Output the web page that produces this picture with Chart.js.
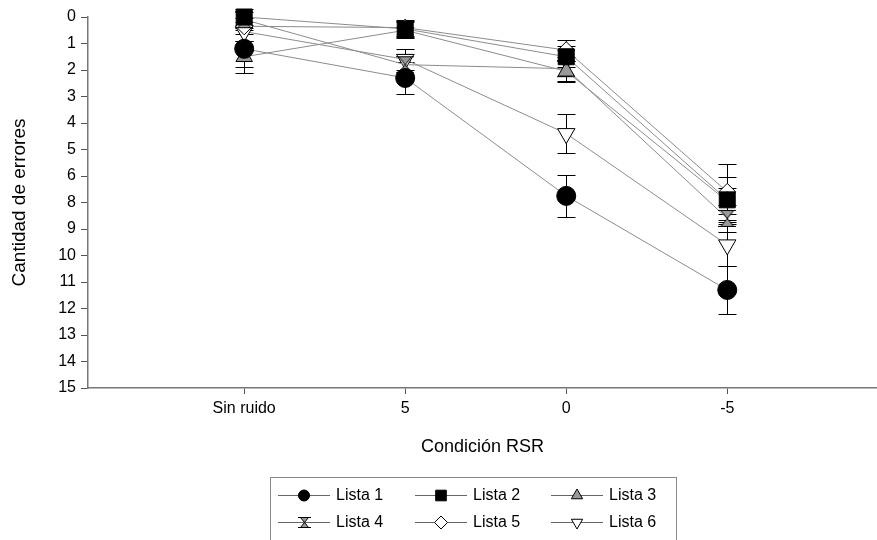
<!DOCTYPE html>
<html><head><meta charset="utf-8">
<script src="https://cdn.jsdelivr.net/npm/chart.js@4"></script>
<style>html,body{margin:0;padding:0;background:#fff}#wrap{width:877px;height:540px;position:relative}</style>
</head><body><div id="wrap"><canvas id="c" width="877" height="540"></canvas></div>
<script>
const categories = ['Sin ruido', '5', '0', '-5'];
const yTickLabels = ['0','1','2','3','4','5','6','8','9','10','11','12','13','14','15'];
const seriesNames = ['Lista 1','Lista 2','Lista 3','Lista 4','Lista 5','Lista 6'];
const lista1 = [1.2, 2.3, 6.75, 10.3];
const lista2 = [0.0, 0.45, 1.5, 6.9];
const lista3 = [1.5, 0.5, 2.05, 6.95];
const lista4 = [0.1, 1.8, 1.95, 7.6];
const lista5 = [0.35, 0.4, 1.25, 6.6];
const lista6 = [0.55, 1.6, 4.4, 8.6];
const err1 = [0.7, 0.6, 0.8, 0.9];
const err2 = [0.3, 0.3, 0.4, 0.85];
const err3 = [0.6, 0.3, 0.4, 0.5];
const err4 = [0.3, 0.4, 0.45, 0.5];
const err5 = [0.3, 0.3, 0.4, 1.05];
const err6 = [0.35, 0.4, 0.73, 0.8];

Chart.defaults.font.family = "'Liberation Sans', Arial, sans-serif";
Chart.defaults.color = '#000';

function hourglass(w, h) {
  const c = document.createElement('canvas');
  c.width = w; c.height = h;
  const g = c.getContext('2d');
  g.fillStyle = '#999'; g.strokeStyle = '#000'; g.lineWidth = 1;
  const m = 2.5;
  g.beginPath(); g.moveTo(m, 1.5); g.lineTo(w - m, 1.5); g.lineTo(w / 2, h / 2); g.closePath(); g.fill(); g.stroke();
  g.beginPath(); g.moveTo(m, h - 1.5); g.lineTo(w - m, h - 1.5); g.lineTo(w / 2, h / 2); g.closePath(); g.fill(); g.stroke();
  g.beginPath(); g.moveTo(0, 1.5); g.lineTo(w, 1.5); g.moveTo(0, h - 1.5); g.lineTo(w, h - 1.5); g.stroke();
  return c;
}
const hgBig = hourglass(18, 19);
const hgSmall = hourglass(13, 13);

const values = [lista1, lista2, lista3, lista4, lista5, lista6];
const errs = [err1, err2, err3, err4, err5, err6];
const styles = [
  {ps: 'circle', r: 9.5, fill: '#000', rot: 0},
  {ps: 'rect', r: 11.3, fill: '#000', rot: 0},
  {ps: 'triangle', r: 9.5, fill: '#999', rot: 0},
  {ps: hgBig, r: 9, fill: '#999', rot: 0, small: hgSmall},
  {ps: 'rectRot', r: 8.5, fill: '#fff', rot: 0},
  {ps: 'triangle', r: 10, fill: '#fff', rot: 180}
];

const datasets = values.map((vals, k) => ({
  label: seriesNames[k],
  data: vals.map((v, i) => ({x: i + 1, y: v})),
  errors: errs[k],
  borderColor: '#8c8c8c',
  borderWidth: 1,
  pointStyle: styles[k].ps,
  pointRadius: styles[k].r,
  pointHoverRadius: styles[k].r,
  pointRotation: styles[k].rot,
  pointBackgroundColor: styles[k].fill,
  pointBorderColor: '#000',
  pointBorderWidth: 1,
  clip: false,
  fill: false,
  tension: 0
}));

const errorBars = {
  id: 'errorBars',
  beforeDatasetsDraw(chart) {
    const {ctx, scales: {x, y}} = chart;
    ctx.save();
    ctx.strokeStyle = '#000';
    ctx.lineWidth = 1;
    chart.data.datasets.forEach(ds => {
      ds.data.forEach((p, i) => {
        const e = ds.errors[i];
        const px = Math.round(x.getPixelForValue(p.x)) + 0.5;
        const y1 = Math.round(y.getPixelForValue(p.y - e)) + 0.5;
        const y2 = Math.round(y.getPixelForValue(p.y + e)) + 0.5;
        ctx.beginPath();
        ctx.moveTo(px, y1); ctx.lineTo(px, y2);
        ctx.moveTo(px - 9, y1); ctx.lineTo(px + 9, y1);
        ctx.moveTo(px - 9, y2); ctx.lineTo(px + 9, y2);
        ctx.stroke();
      });
    });
    ctx.restore();
  }
};

function drawMarker(ctx, st, x, y, r) {
  ctx.save();
  ctx.fillStyle = st.fill; ctx.strokeStyle = '#000'; ctx.lineWidth = 1;
  if (st.small) { ctx.drawImage(st.small, Math.round(x - st.small.width / 2), Math.round(y - st.small.height / 2)); ctx.restore(); return; }
  ctx.beginPath();
  if (st.ps === 'circle') ctx.arc(x, y, r, 0, Math.PI * 2);
  else if (st.ps === 'rect') { const s = r * Math.SQRT1_2; ctx.rect(x - s, y - s, 2 * s, 2 * s); }
  else if (st.ps === 'rectRot') { ctx.moveTo(x, y - r); ctx.lineTo(x + r, y); ctx.lineTo(x, y + r); ctx.lineTo(x - r, y); ctx.closePath(); }
  else if (st.ps === 'triangle') {
    let a = st.rot * Math.PI / 180;
    ctx.moveTo(x + Math.sin(a) * r, y - Math.cos(a) * r);
    a += 2 * Math.PI / 3; ctx.lineTo(x + Math.sin(a) * r, y - Math.cos(a) * r);
    a += 2 * Math.PI / 3; ctx.lineTo(x + Math.sin(a) * r, y - Math.cos(a) * r);
    ctx.closePath();
  }
  ctx.fill(); ctx.stroke();
  ctx.restore();
}

const boxLegend = {
  id: 'boxLegend',
  afterDraw(chart) {
    const ctx = chart.ctx;
    ctx.save();
    ctx.strokeStyle = '#888'; ctx.lineWidth = 1;
    ctx.strokeRect(270.5, 477.5, 406, 80);
    const cols = [278, 415, 551];
    const rows = [495, 522];
    ctx.font = "16px 'Liberation Sans', Arial, sans-serif";
    ctx.textBaseline = 'middle';
    ctx.fillStyle = '#000';
    chart.data.datasets.forEach((ds, k) => {
      const cx = cols[k % 3], cy = rows[Math.floor(k / 3)];
      ctx.strokeStyle = '#666';
      ctx.beginPath(); ctx.moveTo(cx, cy + 0.5); ctx.lineTo(cx + 52, cy + 0.5); ctx.stroke();
      const st = styles[k];
      const rs = st.ps === 'rect' ? 7.5 : (st.ps === 'circle' ? 5.5 : 6.5);
      drawMarker(ctx, st, cx + 26, cy + 0.5, rs);
      ctx.fillStyle = '#000';
      ctx.fillText(ds.label, cx + 58, cy + 1);
    });
    ctx.restore();
  }
};

new Chart(document.getElementById('c'), {
  type: 'line',
  data: {datasets},
  plugins: [errorBars, boxLegend],
  options: {
    responsive: false,
    animation: false,
    devicePixelRatio: 1,
    layout: {autoPadding: false, padding: {top: 17, right: 0, bottom: 82, left: 0}},
    plugins: {legend: {display: false}, tooltip: {enabled: false}},
    scales: {
      x: {
        type: 'linear', min: 0.03, max: 4.93,
        afterBuildTicks: s => { s.ticks = categories.map((c, i) => ({value: i + 1})); },
        afterFit: s => { s.height = 70; s.paddingRight = 0; s.paddingLeft = 0; },
        ticks: {callback: v => categories[v - 1], font: {size: 16}, color: '#000', padding: 5, maxRotation: 0, autoSkip: false},
        grid: {drawOnChartArea: false, drawTicks: true, tickLength: 6, color: '#555'},
        border: {display: true, color: '#777', width: 1.5},
        title: {display: true, text: 'Condición RSR', font: {size: 18}, color: '#000', padding: {top: 0, bottom: 0}}
      },
      y: {
        type: 'linear', min: 0, max: 14, reverse: true,
        afterBuildTicks: s => { s.ticks = yTickLabels.map((t, i) => ({value: i})); },
        afterFit: s => { s.width = 88; s.paddingTop = 0; s.paddingBottom = 0; },
        ticks: {callback: v => yTickLabels[v], font: {size: 16}, color: '#000', padding: 5, autoSkip: false},
        grid: {drawOnChartArea: false, drawTicks: true, tickLength: 7, color: '#555'},
        border: {display: true, color: '#777', width: 1.5},
        title: {display: true, text: 'Cantidad de errores', font: {size: 19}, color: '#000', padding: {top: 8.5, bottom: 0}}
      }
    }
  }
});
</script>
</body></html>
